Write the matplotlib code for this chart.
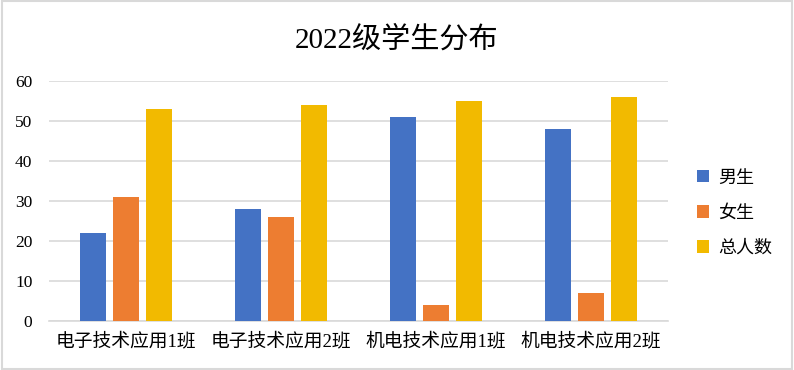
import numpy as np
import matplotlib.pyplot as plt
from matplotlib.patches import Rectangle

plt.rcParams['font.family'] = ['Liberation Serif', 'Noto Sans CJK SC']

# 数据
classes = ['电子技术应用1班', '电子技术应用2班', '机电技术应用1班', '机电技术应用2班']
series_names = ['男生', '女生', '总人数']
boys = [22, 28, 51, 48]
girls = [31, 26, 4, 7]
totals = [53, 54, 55, 56]
colors = ['#4472C4', '#ED7D31', '#F2BA00']

fig = plt.figure(figsize=(7.94, 3.70), dpi=100)
ax = fig.add_axes([49 / 794, 1 - 321 / 370, 619 / 794, 240 / 370])

# 外框
fig.patches.append(Rectangle((0.002, 0.003), 0.996, 0.994, transform=fig.transFigure,
                             fill=False, edgecolor='#D9D9D9', linewidth=1.5))

x = np.arange(len(classes))
width = 0.168
step = 0.214
for i, (vals, name) in enumerate(zip([boys, girls, totals], series_names)):
    ax.bar(x + (i - 1) * step, vals, width, color=colors[i], label=name, zorder=3)

ax.set_xlim(-0.5, len(classes) - 0.5)
ax.set_ylim(0, 60)
ax.set_yticks(range(0, 61, 10))
ax.yaxis.grid(True, color='#D9D9D9', linewidth=1.2, zorder=0)
ax.set_xticks(x)
ax.set_xticklabels(classes, fontsize=13.5)
ax.tick_params(axis='y', labelsize=12.5, length=0, pad=12)
ax.tick_params(axis='x', length=0, pad=8)
for s in ['top', 'right', 'left']:
    ax.spines[s].set_visible(False)
ax.spines['bottom'].set_color('#D9D9D9')
ax.spines['bottom'].set_linewidth(1.2)

fig.text(0.5, 1 - 40 / 370, '2022级学生分布', ha='center', va='center', fontsize=21)

ax.legend(loc='center left', bbox_to_anchor=(1.02, 0.45), frameon=False,
          fontsize=13, handlelength=0.7, handleheight=0.7, handletextpad=0.5,
          labelspacing=1.0)

plt.savefig('out.png', dpi=100)
